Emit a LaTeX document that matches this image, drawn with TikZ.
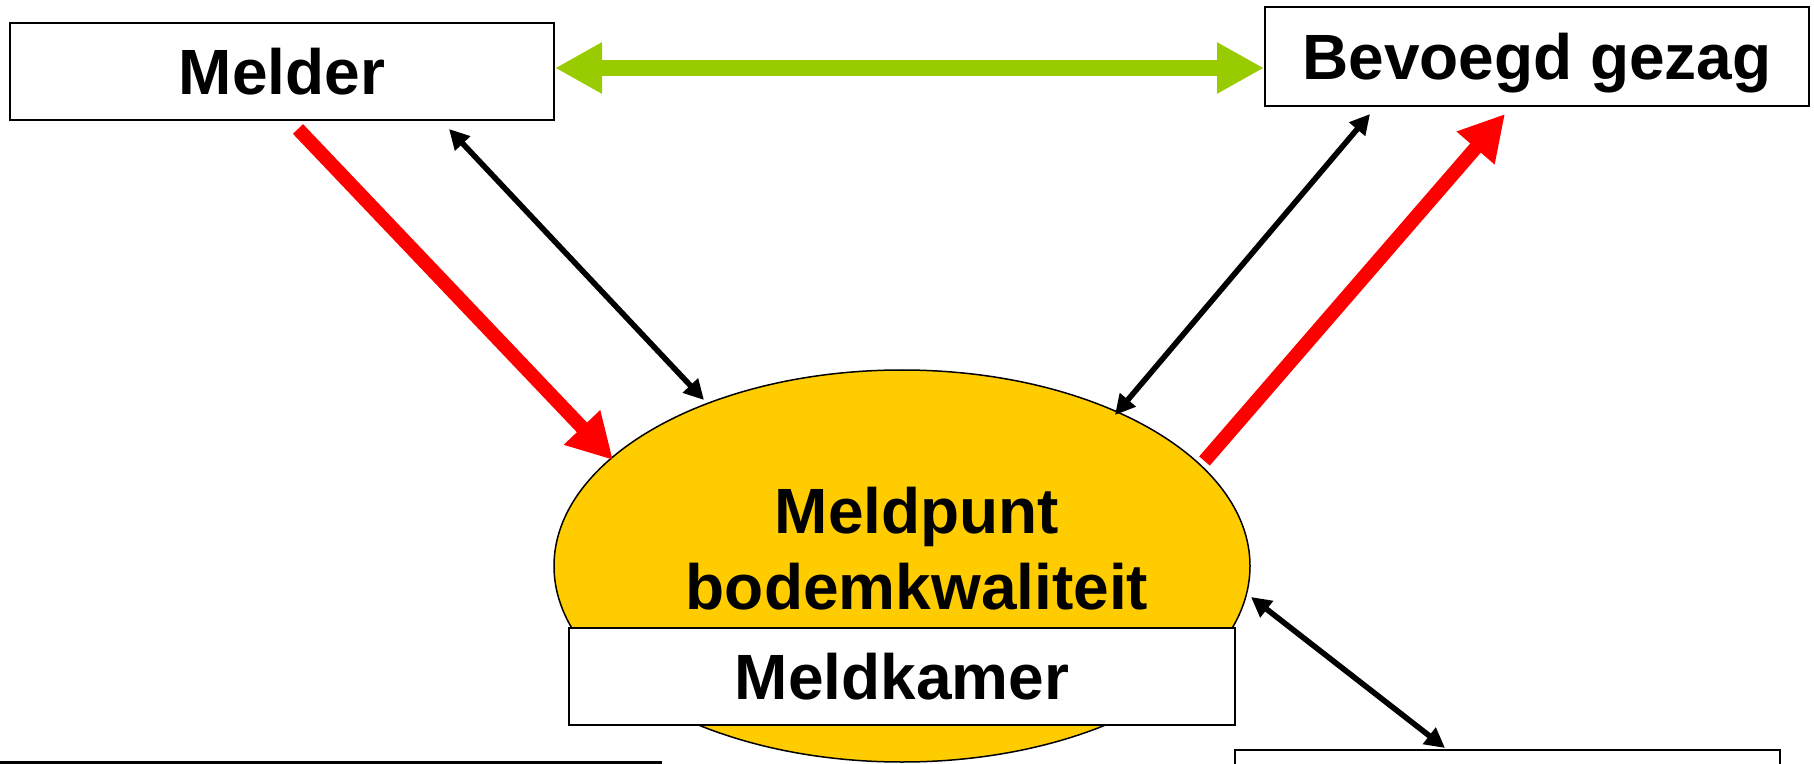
\documentclass[tikz,border=0pt]{standalone}
\usepackage{fontspec}
\setmainfont{Liberation Sans}
\usetikzlibrary{arrows.meta,shapes.geometric}
\definecolor{gold}{HTML}{FFCC00}
\definecolor{lime}{HTML}{99CC00}
\definecolor{redarrow}{HTML}{FF0000}
\begin{document}
\begin{tikzpicture}[x=0.5pt,y=-0.5pt,
  lbl/.style={font=\fontsize{32}{38}\selectfont\bfseries},
  box/.style={draw=black, line width=1.25pt, fill=white, inner sep=0pt, lbl, text depth=0pt},
  redarr/.style={draw=redarrow, fill=redarrow, line width=7pt, -{Triangle[length=22.5pt,width=23.5pt]}},
  greenarr/.style={draw=lime, fill=lime, line width=8.25pt, {Triangle[length=23.5pt,width=24pt]}-{Triangle[length=23.5pt,width=24pt]}},
  blackarr/.style={draw=black, line width=2.8pt, {Triangle[length=10pt,width=10pt]}-{Triangle[length=10pt,width=10pt]}},
]
\useasboundingbox (0,0) rectangle (1814,764);
\clip (0,0) rectangle (1814,764);

% boxes
\node[box, minimum width=272pt, minimum height=48.5pt] (melder) at (282,71.5) {Melder};
\node[box, minimum width=272pt, minimum height=49.5pt] (gezag) at (1537,56.5) {Bevoegd gezag};

% ellipse
\node[ellipse, draw=black, fill=gold, line width=0.75pt, minimum width=348pt, minimum height=196pt, inner sep=0pt] (mp) at (902,566) {};
\node[lbl, align=center, inner sep=0pt] (mptxt) at (917,548.5) {Meldpunt\\bodemkwaliteit};
\node[box, line width=1pt, minimum width=333pt, minimum height=48.5pt] (mk) at (902,676.5) {Meldkamer};

% bottom partial elements
\node[box, line width=1pt, anchor=north west, minimum width=272.5pt, minimum height=40pt] (extra) at (1234,749) {};
\coordinate (bl1) at (0,762);
\coordinate (bl2) at (662,762);
\draw[line width=1.5pt] (bl1) -- (bl2);

% connector endpoints
\coordinate (g1) at (555,68);
\coordinate (g2) at (1264,68);
\coordinate (r1s) at (298,129);
\coordinate (r1e) at (613,460);
\coordinate (r2s) at (1204.5,461);
\coordinate (r2e) at (1505,114);
\coordinate (b1a) at (449,129);
\coordinate (b1b) at (704,400);
\coordinate (b2a) at (1370,114);
\coordinate (b2b) at (1115,415);
\coordinate (b3a) at (1251,597);
\coordinate (b3b) at (1445,748);

% connectors
\draw[greenarr] (g1) -- (g2);
\draw[redarr] (r1s) -- (r1e);
\draw[redarr] (r2s) -- (r2e);
\draw[blackarr] (b1a) -- (b1b);
\draw[blackarr] (b2a) -- (b2b);
\draw[blackarr] (b3a) -- (b3b);
\end{tikzpicture}
\end{document}
